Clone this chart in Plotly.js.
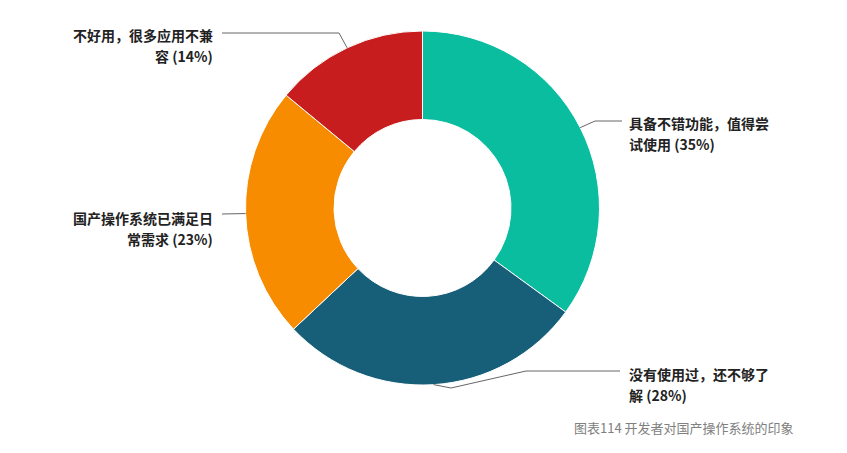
<!DOCTYPE html>
<html>
<head>
<meta charset="utf-8">
<script src="https://cdn.plot.ly/plotly-3.0.1.min.js"></script>
<style>
  html, body { margin: 0; padding: 0; background: #fff; }
  #chart { width: 847px; height: 453px; }
</style>
</head>
<body>
<div id="chart"></div>
<script>
// 数据
const categories = ["具备不错功能，值得尝试使用", "没有使用过，还不够了解", "国产操作系统已满足日常需求", "不好用，很多应用不兼容"];
const shares = [35, 28, 23, 14];
const colors = ["#0bbd9f", "#175e78", "#f78c00", "#c81d1e"];
const caption = "图表114 开发者对国产操作系统的印象";

// 画布和饼图位置（像素）
const W = 847, H = 453;
const cx = 422.5, cy = 208, R = 177;

// 标签排布：引线折点和文字位置（像素）
const labelSide = ["right", "right", "left", "left"];
const labelKnees = [
    [[595, 121], [622, 121]],
    [[451, 388], [526, 371], [620, 371]],
    [[222, 214]],
    [[339, 33], [222, 33]]
];
const labelTextX = [627, 627, 215, 215];
const labelTextY = [123, 374, 218, 35];

function px(x) { return x / W; }
function py(y) { return 1 - y / H; }

const total = shares.reduce((a, b) => a + b, 0);

const shapes = [];
const annotations = [];
let acc = 0;
shares.forEach(function (v, i) {
    const mid = (acc + v / 2) / total * 2 * Math.PI;
    acc += v;
    const sx = cx + R * Math.sin(mid);
    const sy = cy - R * Math.cos(mid);
    let path = "M" + px(sx) + "," + py(sy);
    labelKnees[i].forEach(function (p) {
        path += " L" + px(p[0]) + "," + py(p[1]);
    });
    shapes.push({
        type: "path", xref: "paper", yref: "paper", path: path,
        line: { color: "#666", width: 1 }
    });

    const line1 = categories[i].slice(0, 10);
    const line2 = categories[i].slice(10) + " (" + Math.round(v / total * 100) + "%)";
    [line1, line2].forEach(function (t, k) {
        annotations.push({
            text: t, showarrow: false, xref: "paper", yref: "paper",
            x: px(labelTextX[i]), y: py(labelTextY[i] + k * 21),
            xanchor: labelSide[i] === "right" ? "left" : "right", yanchor: "middle",
            font: { family: "Noto Sans CJK SC", size: 14, color: "#222", weight: "bold" }
        });
    });
});

annotations.push({
    text: caption, showarrow: false, xref: "paper", yref: "paper",
    x: px(572), y: py(427), xanchor: "left", yanchor: "middle",
    font: { family: "Noto Sans CJK SC", size: 13, color: "#808080" }
});

const trace = {
    type: "pie",
    labels: categories,
    values: shares,
    hole: 0.5,
    sort: false,
    direction: "clockwise",
    rotation: 0,
    textinfo: "none",
    marker: { colors: colors, line: { color: "#fff", width: 1 } },
    domain: { x: [px(cx - R), px(cx + R)], y: [py(cy + R), py(cy - R)] },
    hoverinfo: "label+percent"
};

Plotly.newPlot("chart", [trace], {
    width: W, height: H,
    margin: { l: 0, r: 0, t: 0, b: 0 },
    showlegend: false,
    paper_bgcolor: "#fff",
    shapes: shapes,
    annotations: annotations
}, { displayModeBar: false, staticPlot: true });
</script>
</body>
</html>
